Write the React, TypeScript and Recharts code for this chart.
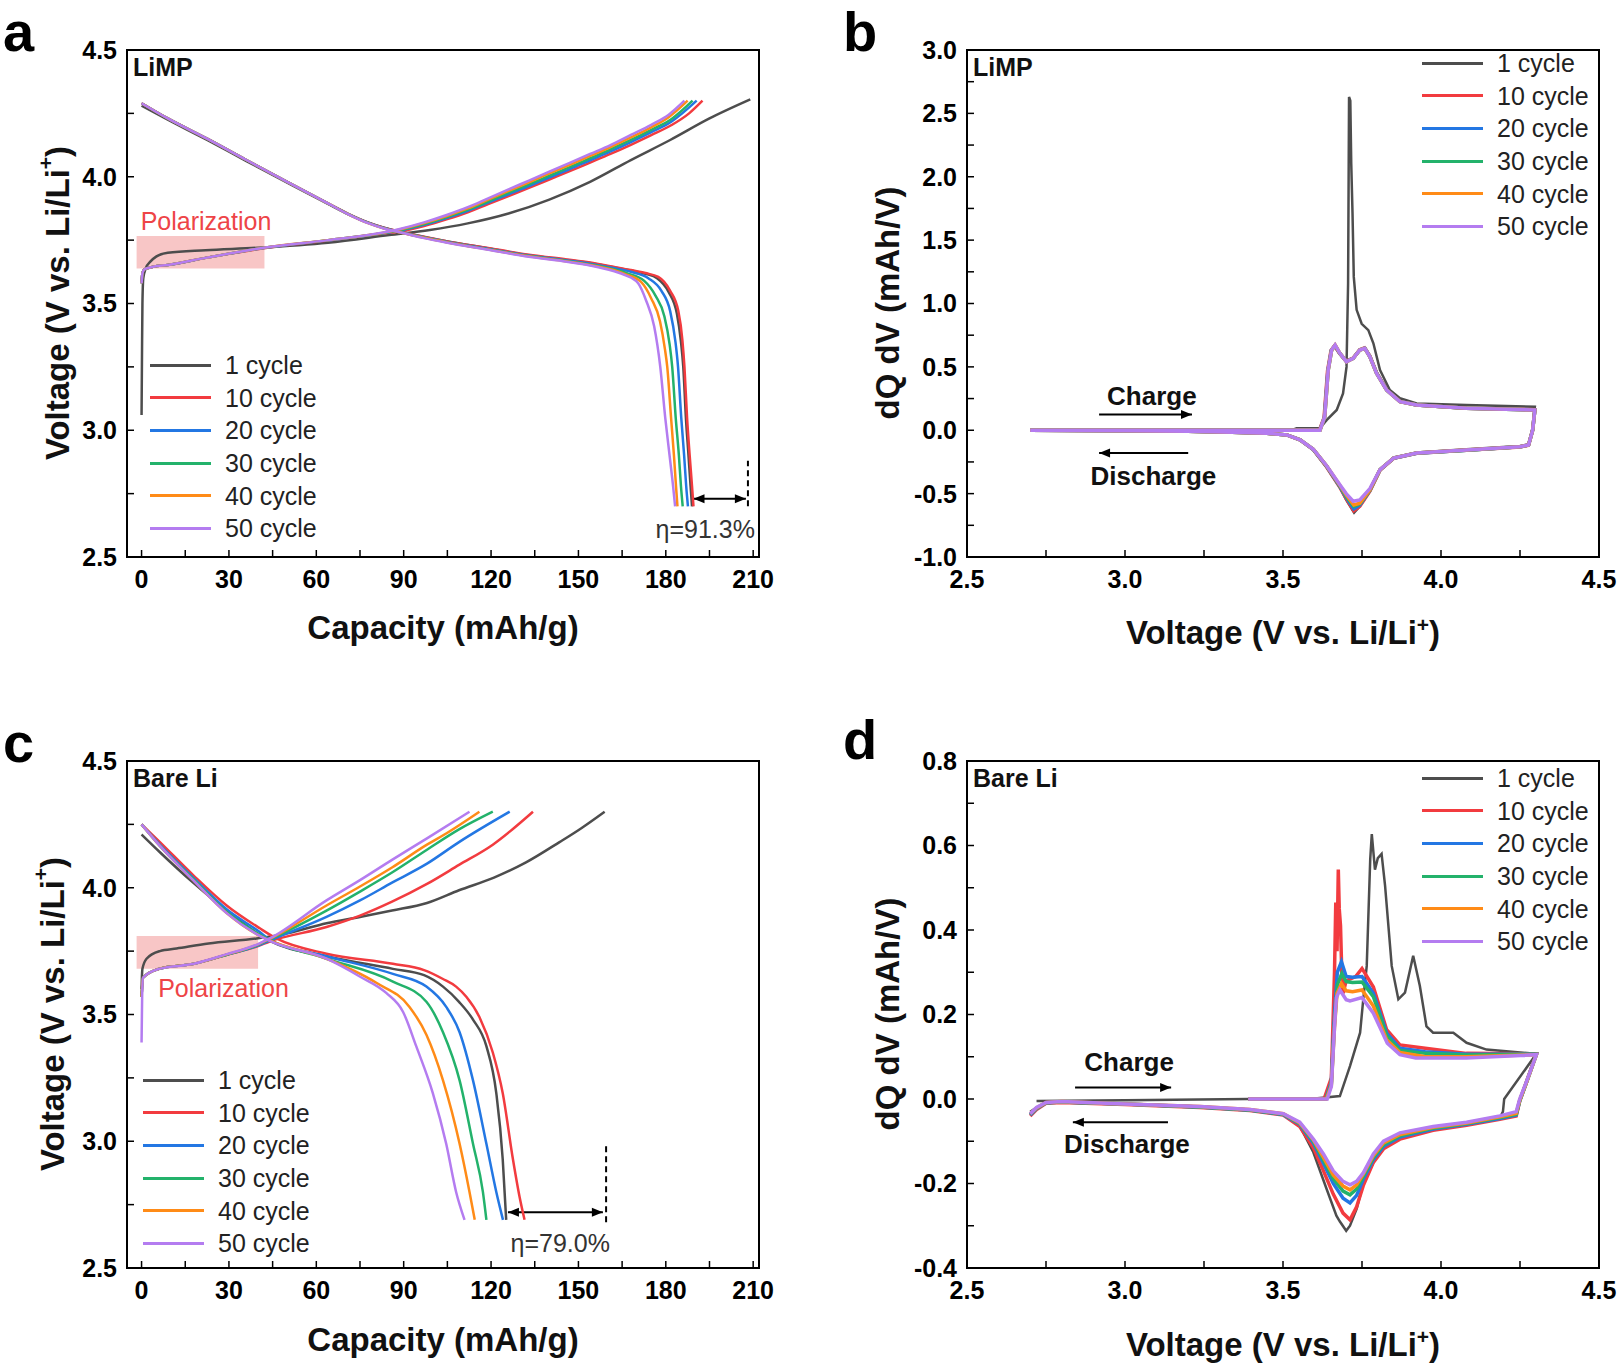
import React from "react";
import {
  LineChart,
  Line,
  XAxis,
  YAxis,
  ReferenceArea,
  ReferenceLine,
  ReferenceDot,
  Legend,
} from "recharts";

type Pt = [number, number];

const FONT = "'Liberation Sans', Arial, Helvetica, sans-serif";

const cycleNames = ["1 cycle", "10 cycle", "20 cycle", "30 cycle", "40 cycle", "50 cycle"];
const cycleColors = ["#4d4d4d", "#f23b3f", "#2377e3", "#23b26b", "#ff8b17", "#b47cf0"];

// tick positions (labels only on the major ones)
const capacityTicks = [0, 15, 30, 45, 60, 75, 90, 105, 120, 135, 150, 165, 180, 195, 210];
const voltageTicks = [2.5, 2.75, 3, 3.25, 3.5, 3.75, 4, 4.25, 4.5];
const limpDqTicks = [-1, -0.75, -0.5, -0.25, 0, 0.25, 0.5, 0.75, 1, 1.25, 1.5, 1.75, 2, 2.25, 2.5, 2.75, 3];
const bareDqTicks = [-0.4, -0.3, -0.2, -0.1, 0, 0.1, 0.2, 0.3, 0.4, 0.5, 0.6, 0.7, 0.8];

// ---------- (a) LiMP voltage profiles: [capacity mAh/g, V] ----------
const limpCharge1: Pt[] = [[0,3.06],[0.15,3.3],[0.3,3.5],[0.6,3.6],[1.5,3.64],[3,3.665],[5,3.685],[9,3.7],[22,3.71],[40,3.72],[64,3.74],[85,3.77],[99,3.79],[112,3.816],[126,3.855],[140,3.91],[154,3.98],[168,4.066],[181.5,4.145],[195,4.23],[209,4.305]];
const limpCharge10: Pt[] = [[0,3.58],[0.3,3.62],[1,3.635],[4,3.645],[9,3.652],[22,3.68],[42,3.718],[64,3.748],[83,3.776],[89,3.785],[97,3.806],[105,3.833],[112,3.86],[119,3.892],[126,3.924],[133,3.956],[140,3.989],[147,4.022],[154,4.056],[161,4.09],[168,4.126],[175,4.164],[182,4.204],[188,4.25],[192.6,4.3]];
const limpCharge20: Pt[] = [[0,3.58],[0.3,3.62],[1,3.635],[4,3.645],[9,3.652],[22,3.68],[42,3.719],[64,3.749],[83,3.777],[89,3.788],[97,3.81],[105,3.838],[112,3.866],[119,3.898],[126,3.931],[133,3.963],[140,3.997],[147,4.03],[154,4.065],[161,4.1],[168,4.137],[175,4.176],[182,4.218],[190.6,4.3]];
const limpCharge30: Pt[] = [[0,3.58],[0.3,3.62],[1,3.635],[4,3.645],[9,3.652],[22,3.68],[42,3.72],[64,3.75],[83,3.778],[89,3.79],[97,3.813],[105,3.842],[112,3.87],[119,3.903],[126,3.937],[133,3.97],[140,4.004],[147,4.038],[154,4.073],[161,4.108],[168,4.145],[175,4.185],[182,4.228],[189.2,4.3]];
const limpCharge40: Pt[] = [[0,3.58],[0.3,3.62],[1,3.635],[4,3.645],[9,3.652],[22,3.68],[42,3.72],[64,3.75],[83,3.779],[89,3.793],[97,3.817],[105,3.846],[112,3.875],[119,3.91],[126,3.944],[133,3.978],[140,4.013],[147,4.047],[154,4.082],[161,4.117],[168,4.155],[175,4.195],[181,4.235],[187.5,4.3]];
const limpCharge50: Pt[] = [[0,3.58],[0.3,3.62],[1,3.635],[4,3.645],[9,3.652],[22,3.68],[42,3.72],[64,3.75],[83,3.78],[89,3.795],[97,3.82],[105,3.85],[112,3.88],[119,3.915],[126,3.95],[133,3.985],[140,4.02],[147,4.055],[154,4.09],[161,4.125],[168,4.165],[175,4.205],[181,4.245],[186.4,4.3]];

const limpDis1: Pt[] = [[0,4.28],[9,4.225],[22.5,4.145],[36,4.062],[50,3.977],[64,3.893],[71,3.852],[78,3.818],[83.5,3.798],[89,3.783],[97,3.762],[105,3.745],[120,3.716],[133,3.69],[146,3.672],[154,3.66],[162,3.643],[168,3.63],[173,3.617],[177,3.6],[181,3.545],[183.8,3.46],[185.2,3.35],[186,3.25],[186.9,3.05],[187.8,2.9],[188.5,2.78],[189,2.7]];
const limpDis10: Pt[] = [[0,4.29],[9,4.23],[22.5,4.15],[36,4.066],[50,3.98],[64,3.895],[71,3.854],[78,3.819],[83.5,3.798],[89,3.783],[97,3.763],[105,3.745],[120,3.717],[133,3.692],[146,3.674],[154,3.662],[162,3.645],[168,3.632],[173,3.62],[177.4,3.605],[181.5,3.55],[184.3,3.47],[185.7,3.355],[186.4,3.25],[187.3,3.05],[188.2,2.9],[189,2.78],[189.5,2.7]];
const limpDis20: Pt[] = [[0,4.29],[9,4.23],[22.5,4.15],[36,4.066],[50,3.98],[64,3.895],[71,3.853],[78,3.818],[83.5,3.797],[89,3.782],[97,3.761],[105,3.743],[120,3.714],[133,3.689],[146,3.67],[154,3.657],[162,3.64],[168,3.625],[174,3.6],[178.5,3.55],[181.5,3.47],[183.3,3.35],[184.2,3.25],[185.3,3.05],[186.3,2.9],[187,2.78],[187.6,2.7]];
const limpDis30: Pt[] = [[0,4.29],[9,4.23],[22.5,4.15],[36,4.066],[50,3.98],[64,3.895],[71,3.853],[78,3.817],[83.5,3.796],[89,3.781],[97,3.76],[105,3.742],[120,3.712],[133,3.687],[146,3.668],[154,3.654],[162,3.635],[167,3.618],[172.5,3.59],[176.5,3.53],[179.5,3.45],[181.3,3.34],[182.2,3.25],[183.4,3.05],[184.5,2.9],[185.2,2.78],[185.8,2.7]];
const limpDis40: Pt[] = [[0,4.29],[9,4.23],[22.5,4.15],[36,4.066],[50,3.98],[64,3.895],[71,3.852],[78,3.816],[83.5,3.795],[89,3.78],[97,3.759],[105,3.741],[120,3.711],[133,3.686],[146,3.666],[154,3.652],[162,3.632],[166.5,3.614],[171.5,3.585],[175,3.52],[178,3.43],[179.7,3.32],[180.5,3.25],[181.8,3.05],[182.8,2.9],[183.5,2.78],[184,2.7]];
const limpDis50: Pt[] = [[0,4.29],[9,4.23],[22.5,4.15],[36,4.066],[50,3.98],[64,3.895],[71,3.852],[78,3.816],[83.5,3.795],[89,3.78],[97,3.758],[105,3.74],[120,3.71],[133,3.684],[146,3.665],[154,3.65],[162,3.628],[166,3.612],[170.5,3.58],[173.3,3.51],[176,3.41],[178.1,3.25],[179.8,3.05],[181.3,2.9],[182.5,2.78],[183.2,2.7]];

// ---------- (c) Bare Li voltage profiles ----------
const bareCharge1: Pt[] = [[0,3.6],[0.1,3.64],[0.3,3.68],[1.7,3.72],[6.3,3.75],[12,3.76],[23,3.78],[39.5,3.8],[50,3.82],[63.5,3.86],[75,3.885],[86,3.91],[98,3.94],[109,3.99],[121,4.04],[132,4.1],[143.5,4.18],[151,4.235],[159,4.3]];
const bareCharge10: Pt[] = [[0,3.57],[0.5,3.645],[6,3.68],[18,3.7],[29,3.735],[40,3.77],[44,3.788],[63.5,3.845],[75,3.89],[86,3.945],[98,4.015],[109,4.09],[120.6,4.17],[134.4,4.3]];
const bareCharge20: Pt[] = [[0,3.57],[0.5,3.645],[6,3.68],[18,3.7],[29,3.735],[40,3.772],[44,3.792],[63.5,3.885],[75,3.95],[86,4.02],[98,4.095],[109,4.18],[126.4,4.3]];
const bareCharge30: Pt[] = [[0,3.57],[0.5,3.645],[6,3.68],[18,3.7],[29,3.735],[40,3.775],[44,3.796],[63.5,3.91],[75,3.985],[86,4.06],[98,4.15],[109,4.23],[120.6,4.3]];
const bareCharge40: Pt[] = [[0,3.57],[0.5,3.645],[6,3.68],[18,3.7],[29,3.736],[40,3.777],[44,3.798],[63.5,3.93],[75,4.005],[86,4.08],[98,4.17],[104,4.21],[116,4.3]];
const bareCharge50: Pt[] = [[0,3.39],[0.2,3.57],[0.5,3.645],[6,3.68],[18,3.7],[29,3.737],[40,3.778],[44,3.8],[63.5,3.95],[75,4.03],[86,4.11],[98,4.195],[112.6,4.3]];

const bareDis1: Pt[] = [[0,4.21],[6.3,4.14],[17.7,4.02],[29.2,3.91],[44,3.79],[63.5,3.73],[86.3,3.68],[97,3.655],[103.5,3.61],[109,3.55],[113.8,3.48],[118.4,3.375],[121.8,3.19],[124,2.93],[125.2,2.69]];
const bareDis10: Pt[] = [[0,4.25],[6.3,4.18],[17.7,4.05],[29.2,3.93],[40.6,3.84],[46.3,3.8],[63.5,3.74],[86.3,3.7],[97,3.675],[103.5,3.64],[108,3.61],[111.5,3.57],[116,3.49],[120.6,3.35],[124,3.19],[127.5,2.93],[129.8,2.78],[131.5,2.69]];
const bareDis20: Pt[] = [[0,4.25],[6.3,4.17],[17.7,4.04],[29.2,3.915],[40.6,3.825],[44,3.795],[63.5,3.73],[86.3,3.66],[97.8,3.61],[104.6,3.53],[109.2,3.43],[113.8,3.24],[118.4,2.99],[121.8,2.8],[124.1,2.69]];
const bareDis30: Pt[] = [[0,4.25],[6.3,4.165],[17.7,4.035],[29.2,3.905],[40.6,3.815],[44,3.793],[63.5,3.72],[86.3,3.63],[97.8,3.55],[103.5,3.43],[109.2,3.24],[113.8,2.99],[117.2,2.8],[118.4,2.69]];
const bareDis40: Pt[] = [[0,4.25],[6.3,4.165],[17.7,4.03],[29.2,3.9],[40.6,3.81],[44,3.792],[63.5,3.72],[80.6,3.625],[92,3.53],[97.8,3.42],[103.5,3.24],[109.2,2.99],[112.6,2.8],[114.4,2.69]];
const bareDis50: Pt[] = [[0,4.25],[6.3,4.165],[17.7,4.03],[29.2,3.9],[40.6,3.81],[44,3.79],[63.5,3.72],[74.9,3.65],[84,3.585],[89.8,3.51],[94.3,3.375],[100,3.19],[104.6,2.99],[108,2.8],[110.9,2.69]];

// ---------- (b) LiMP dQ/dV loops: [V, dQ/dV], charge then discharge ----------
const limpDq1: Pt[] = [[2.7,0],[3.0,0],[3.3,0.001],[3.53,0.002],[3.543,0.015],[3.617,0.017],[3.638,0.08],[3.67,0.16],[3.69,0.29],[3.701,0.5],[3.706,1.16],[3.709,2.63],[3.713,2.6],[3.716,2.1],[3.72,1.71],[3.724,1.21],[3.733,0.95],[3.749,0.84],[3.77,0.79],[3.786,0.686],[3.807,0.475],[3.838,0.317],[3.87,0.252],[3.923,0.212],[4.08,0.199],[4.297,0.186],[4.29,0.02],[4.277,-0.11],[4.25,-0.125],[4.08,-0.15],[3.923,-0.175],[3.85,-0.215],[3.807,-0.31],[3.775,-0.48],[3.743,-0.6],[3.725,-0.65],[3.7,-0.55],[3.68,-0.45],[3.638,-0.29],[3.596,-0.155],[3.554,-0.077],[3.512,-0.037],[3.449,-0.024],[3.34,-0.015],[3.2,-0.008],[3.0,-0.003],[2.7,0]];
const limpDq10: Pt[] = [[2.7,0],[3.2,0],[3.55,0],[3.615,0.0],[3.63,0.1],[3.641,0.47],[3.652,0.63],[3.663,0.665],[3.678,0.61],[3.7,0.545],[3.722,0.57],[3.743,0.635],[3.758,0.65],[3.775,0.585],[3.796,0.455],[3.828,0.32],[3.87,0.228],[3.923,0.2],[4.08,0.174],[4.297,0.162],[4.29,0.0],[4.277,-0.118],[4.25,-0.132],[4.08,-0.158],[3.923,-0.182],[3.85,-0.222],[3.807,-0.315],[3.775,-0.48],[3.743,-0.6],[3.724,-0.635],[3.7,-0.54],[3.68,-0.45],[3.638,-0.29],[3.596,-0.153],[3.554,-0.076],[3.512,-0.037],[3.449,-0.024],[3.34,-0.015],[3.2,-0.008],[3.0,-0.003],[2.7,0]];
const limpDq20: Pt[] = [[2.7,0],[3.2,0],[3.55,0],[3.616,0.0],[3.631,0.1],[3.642,0.47],[3.653,0.632],[3.664,0.668],[3.679,0.608],[3.7,0.543],[3.722,0.568],[3.743,0.634],[3.759,0.648],[3.775,0.582],[3.796,0.452],[3.828,0.318],[3.87,0.227],[3.923,0.2],[4.08,0.173],[4.297,0.161],[4.29,0.0],[4.277,-0.117],[4.25,-0.131],[4.08,-0.157],[3.923,-0.181],[3.85,-0.221],[3.807,-0.312],[3.775,-0.475],[3.743,-0.59],[3.724,-0.62],[3.7,-0.53],[3.68,-0.445],[3.638,-0.285],[3.596,-0.152],[3.554,-0.076],[3.512,-0.037],[3.449,-0.024],[3.34,-0.015],[3.2,-0.008],[3.0,-0.003],[2.7,0]];
const limpDq30: Pt[] = [[2.7,0],[3.2,0],[3.55,0],[3.617,0.0],[3.632,0.105],[3.643,0.472],[3.654,0.633],[3.665,0.67],[3.68,0.607],[3.701,0.542],[3.722,0.567],[3.743,0.633],[3.759,0.646],[3.775,0.58],[3.796,0.45],[3.828,0.317],[3.87,0.226],[3.923,0.199],[4.08,0.173],[4.297,0.16],[4.29,0.0],[4.277,-0.117],[4.25,-0.131],[4.08,-0.157],[3.923,-0.18],[3.85,-0.22],[3.807,-0.311],[3.775,-0.472],[3.743,-0.58],[3.724,-0.6],[3.7,-0.52],[3.68,-0.44],[3.638,-0.283],[3.596,-0.151],[3.554,-0.075],[3.512,-0.037],[3.449,-0.024],[3.34,-0.015],[3.2,-0.008],[3.0,-0.003],[2.7,0]];
const limpDq40: Pt[] = [[2.7,0],[3.2,0],[3.55,0],[3.617,0.0],[3.632,0.106],[3.643,0.474],[3.654,0.633],[3.665,0.672],[3.68,0.607],[3.701,0.541],[3.722,0.567],[3.743,0.633],[3.759,0.646],[3.775,0.58],[3.796,0.449],[3.828,0.317],[3.87,0.226],[3.923,0.199],[4.08,0.173],[4.297,0.16],[4.29,0.0],[4.277,-0.116],[4.25,-0.13],[4.08,-0.156],[3.923,-0.18],[3.85,-0.22],[3.807,-0.31],[3.775,-0.47],[3.743,-0.575],[3.724,-0.59],[3.7,-0.51],[3.68,-0.435],[3.638,-0.281],[3.596,-0.15],[3.554,-0.075],[3.512,-0.037],[3.449,-0.024],[3.34,-0.015],[3.2,-0.008],[3.0,-0.003],[2.7,0]];
const limpDq50: Pt[] = [[2.7,0],[3.2,0],[3.55,0],[3.617,0.0],[3.632,0.107],[3.643,0.475],[3.654,0.633],[3.665,0.673],[3.68,0.607],[3.701,0.541],[3.722,0.567],[3.743,0.633],[3.759,0.646],[3.775,0.58],[3.796,0.449],[3.828,0.317],[3.87,0.226],[3.923,0.199],[4.08,0.173],[4.297,0.16],[4.29,0.0],[4.277,-0.116],[4.25,-0.13],[4.08,-0.156],[3.923,-0.18],[3.85,-0.22],[3.807,-0.31],[3.775,-0.46],[3.743,-0.55],[3.722,-0.56],[3.7,-0.5],[3.68,-0.43],[3.638,-0.28],[3.596,-0.15],[3.554,-0.075],[3.512,-0.037],[3.449,-0.024],[3.34,-0.015],[3.2,-0.008],[3.0,-0.003],[2.7,0]];

// ---------- (d) Bare Li dQ/dV loops ----------
const bareDq1: Pt[] = [[2.72,-0.005],[3.0,-0.003],[3.39,0],[3.585,0],[3.68,0.007],[3.712,0.078],[3.744,0.157],[3.754,0.236],[3.765,0.315],[3.776,0.567],[3.781,0.627],[3.791,0.543],[3.8,0.57],[3.812,0.58],[3.823,0.505],[3.844,0.315],[3.865,0.236],[3.886,0.252],[3.912,0.339],[3.933,0.268],[3.954,0.172],[3.975,0.157],[4.039,0.157],[4.081,0.133],[4.144,0.117],[4.302,0.107],[4.2,0.0],[4.196,-0.03],[4.186,-0.045],[4.081,-0.06],[3.975,-0.072],[3.87,-0.09],[3.818,-0.11],[3.786,-0.15],[3.754,-0.2],[3.733,-0.26],[3.712,-0.3],[3.7,-0.312],[3.68,-0.29],[3.669,-0.276],[3.638,-0.213],[3.596,-0.126],[3.553,-0.064],[3.501,-0.036],[3.395,-0.026],[3.237,-0.018],[3.0,-0.012],[2.8,-0.006],[2.75,-0.008],[2.72,-0.02],[2.7,-0.03]];
const bareDq10: Pt[] = [[3.39,0],[3.63,0],[3.653,0.05],[3.663,0.3],[3.667,0.465],[3.671,0.35],[3.675,0.543],[3.678,0.45],[3.682,0.41],[3.686,0.3],[3.69,0.25],[3.7,0.28],[3.73,0.29],[3.75,0.309],[3.786,0.265],[3.828,0.164],[3.87,0.128],[3.95,0.12],[4.08,0.108],[4.302,0.107],[4.27,0.04],[4.249,-0.005],[4.238,-0.04],[4.186,-0.048],[4.081,-0.062],[3.975,-0.074],[3.87,-0.095],[3.818,-0.118],[3.786,-0.15],[3.754,-0.205],[3.733,-0.255],[3.712,-0.286],[3.69,-0.27],[3.659,-0.225],[3.628,-0.17],[3.596,-0.115],[3.553,-0.065],[3.501,-0.038],[3.395,-0.027],[3.237,-0.02],[3.0,-0.013],[2.8,-0.008],[2.75,-0.01],[2.72,-0.025],[2.7,-0.04]];
const bareDq20: Pt[] = [[3.39,0],[3.635,0],[3.653,0.04],[3.663,0.2],[3.672,0.3],[3.685,0.325],[3.7,0.29],[3.72,0.288],[3.75,0.29],[3.786,0.25],[3.828,0.156],[3.87,0.12],[3.95,0.112],[4.08,0.106],[4.302,0.106],[4.27,0.038],[4.249,-0.005],[4.238,-0.038],[4.186,-0.046],[4.081,-0.06],[3.975,-0.071],[3.87,-0.09],[3.818,-0.112],[3.786,-0.143],[3.754,-0.19],[3.733,-0.228],[3.712,-0.246],[3.69,-0.235],[3.659,-0.2],[3.628,-0.152],[3.596,-0.104],[3.553,-0.06],[3.501,-0.037],[3.395,-0.026],[3.237,-0.019],[3.0,-0.012],[2.8,-0.007],[2.75,-0.009],[2.72,-0.023],[2.7,-0.038]];
const bareDq30: Pt[] = [[3.39,0],[3.636,0],[3.653,0.035],[3.663,0.18],[3.672,0.27],[3.686,0.297],[3.7,0.278],[3.72,0.276],[3.75,0.277],[3.786,0.242],[3.828,0.15],[3.87,0.115],[3.95,0.108],[4.08,0.104],[4.302,0.106],[4.27,0.038],[4.249,-0.004],[4.238,-0.036],[4.186,-0.044],[4.081,-0.058],[3.975,-0.069],[3.87,-0.087],[3.818,-0.108],[3.786,-0.138],[3.754,-0.183],[3.733,-0.213],[3.712,-0.227],[3.69,-0.218],[3.659,-0.188],[3.628,-0.145],[3.596,-0.1],[3.553,-0.058],[3.501,-0.036],[3.395,-0.026],[3.237,-0.019],[3.0,-0.012],[2.8,-0.007],[2.75,-0.009],[2.72,-0.022],[2.7,-0.036]];
const bareDq40: Pt[] = [[3.39,0],[3.637,0],[3.653,0.032],[3.663,0.17],[3.671,0.25],[3.685,0.273],[3.7,0.256],[3.72,0.254],[3.75,0.258],[3.786,0.22],[3.828,0.14],[3.87,0.11],[3.95,0.1],[4.08,0.1],[4.302,0.105],[4.27,0.038],[4.249,-0.003],[4.238,-0.034],[4.186,-0.042],[4.081,-0.057],[3.975,-0.067],[3.87,-0.084],[3.818,-0.104],[3.786,-0.134],[3.754,-0.178],[3.733,-0.203],[3.712,-0.215],[3.69,-0.206],[3.659,-0.18],[3.628,-0.138],[3.596,-0.097],[3.553,-0.057],[3.501,-0.035],[3.395,-0.025],[3.237,-0.018],[3.0,-0.012],[2.8,-0.006],[2.75,-0.008],[2.72,-0.021],[2.7,-0.035]];
const bareDq50: Pt[] = [[3.39,0],[3.64,0],[3.653,0.03],[3.663,0.17],[3.669,0.24],[3.68,0.258],[3.7,0.235],[3.712,0.232],[3.75,0.24],[3.786,0.203],[3.83,0.132],[3.87,0.105],[3.92,0.097],[4.08,0.097],[4.302,0.105],[4.27,0.04],[4.249,0.0],[4.238,-0.03],[4.186,-0.04],[4.081,-0.055],[3.975,-0.065],[3.87,-0.08],[3.818,-0.1],[3.786,-0.13],[3.754,-0.175],[3.733,-0.195],[3.712,-0.203],[3.69,-0.195],[3.659,-0.17],[3.628,-0.13],[3.596,-0.095],[3.553,-0.055],[3.501,-0.035],[3.395,-0.025],[3.237,-0.018],[3.0,-0.012],[2.8,-0.006],[2.75,-0.008],[2.72,-0.02],[2.7,-0.035]];

// annotations
const limpEta = { from: 189.5, to: 207.5, v: 2.73, dashX: 208.2, dashLo: 2.7, dashHi: 2.88, text: "\u03b7=91.3%", textX: 210.6, textV: 2.61 };
const bareEta = { from: 125.8, to: 158.4, v: 2.72, dashX: 159.5, dashLo: 2.68, dashHi: 2.99, text: "\u03b7=79.0%", textX: 160.8, textV: 2.6 };

type Series = { pts: Pt[]; color: string; w: number; curve: "linear" | "monotone" };

const W = 781;
const H = 655;

const toRows = (pts: Pt[]) => pts.map(([x, y]) => ({ x, y }));

const majorFmt = (step: number) => (v: number) =>
  Math.abs(v / step - Math.round(v / step)) < 1e-6 ? (Math.abs(v) < 1e-9 ? "0" : String(v)) : "";

const fixedFmt = (step: number) => (v: number) =>
  Math.abs(v / step - Math.round(v / step)) < 1e-6 ? (Math.abs(v) < 1e-9 ? 0 : v).toFixed(1) : "";

const arrowShape = (both: boolean) => (p: any) => {
  const { x1, y1, x2, y2 } = p;
  const d = x2 > x1 ? 1 : -1;
  const L = 11;
  const w = 4.5;
  return (
    <g>
      <line x1={x1} y1={y1} x2={x2} y2={y2} stroke="#000" strokeWidth={2} />
      <polygon points={`${x2},${y2} ${x2 - d * L},${y2 - w} ${x2 - d * L},${y2 + w}`} fill="#000" />
      {both && (
        <polygon points={`${x1},${y1} ${x1 + d * L},${y1 - w} ${x1 + d * L},${y1 + w}`} fill="#000" />
      )}
    </g>
  );
};

const textShape = (
  str: string,
  opts: { anchor?: "start" | "middle" | "end"; size?: number; bold?: boolean; color?: string; dx?: number; dy?: number }
) => (p: any) => (
  <text
    x={p.cx + (opts.dx || 0)}
    y={p.cy + (opts.dy || 0)}
    textAnchor={opts.anchor || "middle"}
    dominantBaseline="central"
    fontFamily={FONT}
    fontSize={opts.size || 25}
    fontWeight={opts.bold ? 700 : 400}
    fill={opts.color || "#222"}
  >
    {str}
  </text>
);

const voltTitle = (
  <>
    Voltage (V vs. Li/Li
    <tspan dy={-12} fontSize={21}>+</tspan>
    <tspan dy={12}>)</tspan>
  </>
);

const renderLegend = () => (
  <div style={{ fontFamily: FONT, fontSize: 25, color: "#222" }}>
    {cycleNames.map((n, i) => (
      <div key={n} style={{ display: "flex", alignItems: "center", height: 32.6 }}>
        <div style={{ width: 61, height: 3, background: cycleColors[i], marginRight: 14 }} />
        <span style={{ lineHeight: "30px", whiteSpace: "nowrap" }}>{n}</span>
      </div>
    ))}
  </div>
);

type PanelProps = {
  left: number;
  top: number;
  letter: string;
  letterTop: number;
  tag: string;
  xDomain: [number, number];
  xTicks: number[];
  xFmt: (v: number) => string;
  yDomain: [number, number];
  yTicks: number[];
  yFmt: (v: number) => string;
  xTitle: React.ReactNode;
  xTitleY: number;
  yTitle: React.ReactNode;
  yTitleX: number;
  series: Series[];
  legend: { left: number; top: number };
  children?: React.ReactNode;
};

const tickStyle = { fill: "#000", fontSize: 25, fontWeight: 700, fontFamily: FONT };

function Panel(p: PanelProps) {
  return (
    <div style={{ position: "absolute", left: p.left, top: p.top, width: W, height: H }}>
      <LineChart width={W} height={H} margin={{ top: 50, right: 22, bottom: 38, left: 27 }}>
        <XAxis
          type="number"
          dataKey="x"
          domain={p.xDomain}
          allowDataOverflow
          ticks={p.xTicks}
          interval={0}
          tickFormatter={p.xFmt}
          tick={tickStyle}
          tickSize={-7}
          tickMargin={20}
          height={60}
          axisLine={{ stroke: "#000", strokeWidth: 2 }}
          tickLine={{ stroke: "#000", strokeWidth: 1.5 }}
          label={() => (
            <text x={443} y={p.xTitleY} textAnchor="middle" fontFamily={FONT} fontWeight={700} fontSize={33} fill="#111">
              {p.xTitle}
            </text>
          )}
        />
        <YAxis
          type="number"
          dataKey="y"
          domain={p.yDomain}
          allowDataOverflow
          ticks={p.yTicks}
          interval={0}
          tickFormatter={p.yFmt}
          tick={tickStyle}
          tickSize={-7}
          tickMargin={17}
          width={100}
          axisLine={{ stroke: "#000", strokeWidth: 2 }}
          tickLine={{ stroke: "#000", strokeWidth: 1.5 }}
          label={() => (
            <text
              transform={`translate(${p.yTitleX},303) rotate(-90)`}
              textAnchor="middle"
              dominantBaseline="central"
              fontFamily={FONT}
              fontWeight={700}
              fontSize={33}
              fill="#111"
            >
              {p.yTitle}
            </text>
          )}
        />
        <ReferenceArea
          x1={p.xDomain[0]}
          x2={p.xDomain[1]}
          y1={p.yDomain[0]}
          y2={p.yDomain[1]}
          fill="none"
          stroke="#000"
          strokeWidth={2}
        />
        {p.children}
        {p.series.map((s, i) => (
          <Line
            key={i}
            data={toRows(s.pts)}
            dataKey="y"
            type={s.curve}
            stroke={s.color}
            strokeWidth={s.w}
            dot={false}
            activeDot={false}
            legendType="none"
            isAnimationActive={false}
          />
        ))}
        <ReferenceDot
          x={p.xDomain[0]}
          y={p.yDomain[1]}
          r={0}
          ifOverflow="visible"
          shape={textShape(p.tag, { anchor: "start", bold: true, size: 25, color: "#111", dx: 6, dy: 17 })}
        />
        <Legend
          content={renderLegend}
          layout="vertical"
          align="center"
          verticalAlign="middle"
          wrapperStyle={{ left: p.legend.left, top: p.legend.top, width: 220 }}
        />
      </LineChart>
      <div
        style={{
          position: "absolute",
          left: 3,
          top: p.letterTop,
          fontFamily: FONT,
          fontWeight: 700,
          fontSize: 56,
          lineHeight: "56px",
          color: "#000",
        }}
      >
        {p.letter}
      </div>
    </div>
  );
}

const capacitySeries = (pairs: Pt[][][]): Series[] =>
  pairs.flatMap((pair, i) => pair.map((pts) => ({ pts, color: cycleColors[i], w: 2.5, curve: "monotone" as const })));

const loopSeries = (loops: Pt[][]): Series[] =>
  loops.map((pts, i) => ({ pts, color: cycleColors[i], w: i === 0 ? 2.5 : 3.5, curve: "linear" as const }));

const polarBox = (x1: number, x2: number, y1: number, y2: number) => (
  <ReferenceArea x1={x1} x2={x2} y1={y1} y2={y2} fill="#f08080" fillOpacity={0.45} stroke="none" />
);

const etaMarks = (e: typeof limpEta) => [
  <ReferenceLine
    key="eta-arrow"
    segment={[{ x: e.from, y: e.v }, { x: e.to, y: e.v }]}
    shape={arrowShape(true)}
  />,
  <ReferenceLine
    key="eta-dash"
    segment={[{ x: e.dashX, y: e.dashLo }, { x: e.dashX, y: e.dashHi }]}
    stroke="#000"
    strokeWidth={2}
    strokeDasharray="6 4"
  />,
  <ReferenceDot
    key="eta-text"
    x={e.textX}
    y={e.textV}
    r={0}
    ifOverflow="visible"
    shape={textShape(e.text, { anchor: "end", size: 25, color: "#333" })}
  />,
];

export default function App() {
  return (
    <div style={{ position: "absolute", left: 0, top: 0, width: 1621, height: 1366, background: "#fff" }}>
      <Panel
        left={0}
        top={0}
        letter="a"
        letterTop={4}
        tag="LiMP"
        xDomain={[-5, 212]}
        xTicks={capacityTicks}
        xFmt={majorFmt(30)}
        yDomain={[2.5, 4.5]}
        yTicks={voltageTicks}
        yFmt={fixedFmt(0.5)}
        xTitle="Capacity (mAh/g)"
        xTitleY={639}
        yTitle={voltTitle}
        yTitleX={57}
        series={capacitySeries([
          [limpCharge1, limpDis1],
          [limpCharge10, limpDis10],
          [limpCharge20, limpDis20],
          [limpCharge30, limpDis30],
          [limpCharge40, limpDis40],
          [limpCharge50, limpDis50],
        ])}
        legend={{ left: 150, top: 349 }}
      >
        {polarBox(-1.7, 42.2, 3.638, 3.766)}
        <ReferenceDot
          x={-0.3}
          y={3.825}
          r={0}
          shape={textShape("Polarization", { anchor: "start", size: 25, color: "#ee4447" })}
        />
        {etaMarks(limpEta)}
      </Panel>

      <Panel
        left={840}
        top={0}
        letter="b"
        letterTop={4}
        tag="LiMP"
        xDomain={[2.5, 4.5]}
        xTicks={voltageTicks}
        xFmt={fixedFmt(0.5)}
        yDomain={[-1, 3]}
        yTicks={limpDqTicks}
        yFmt={fixedFmt(0.5)}
        xTitle={voltTitle}
        xTitleY={644}
        yTitle="dQ dV (mAh/V)"
        yTitleX={47}
        series={loopSeries([limpDq1, limpDq10, limpDq20, limpDq30, limpDq40, limpDq50])}
        legend={{ left: 582, top: 47 }}
      >
        <ReferenceLine segment={[{ x: 2.918, y: 0.124 }, { x: 3.212, y: 0.124 }]} shape={arrowShape(false)} />
        <ReferenceLine segment={[{ x: 3.2, y: -0.18 }, { x: 2.918, y: -0.18 }]} shape={arrowShape(false)} />
        <ReferenceDot x={3.085} y={0.27} r={0} shape={textShape("Charge", { size: 26, bold: true, color: "#111" })} />
        <ReferenceDot x={3.09} y={-0.36} r={0} shape={textShape("Discharge", { size: 26, bold: true, color: "#111" })} />
      </Panel>

      <Panel
        left={0}
        top={711}
        letter="c"
        letterTop={4}
        tag="Bare Li"
        xDomain={[-5, 212]}
        xTicks={capacityTicks}
        xFmt={majorFmt(30)}
        yDomain={[2.5, 4.5]}
        yTicks={voltageTicks}
        yFmt={fixedFmt(0.5)}
        xTitle="Capacity (mAh/g)"
        xTitleY={640}
        yTitle={voltTitle}
        yTitleX={52}
        series={capacitySeries([
          [bareCharge1, bareDis1],
          [bareCharge10, bareDis10],
          [bareCharge20, bareDis20],
          [bareCharge30, bareDis30],
          [bareCharge40, bareDis40],
          [bareCharge50, bareDis50],
        ])}
        legend={{ left: 143, top: 353 }}
      >
        {polarBox(-1.7, 40, 3.68, 3.81)}
        <ReferenceDot
          x={5.7}
          y={3.605}
          r={0}
          shape={textShape("Polarization", { anchor: "start", size: 25, color: "#ee4447" })}
        />
        {etaMarks(bareEta)}
      </Panel>

      <Panel
        left={840}
        top={711}
        letter="d"
        letterTop={1}
        tag="Bare Li"
        xDomain={[2.5, 4.5]}
        xTicks={voltageTicks}
        xFmt={fixedFmt(0.5)}
        yDomain={[-0.4, 0.8]}
        yTicks={bareDqTicks}
        yFmt={fixedFmt(0.2)}
        xTitle={voltTitle}
        xTitleY={645}
        yTitle="dQ dV (mAh/V)"
        yTitleX={47}
        series={loopSeries([bareDq1, bareDq10, bareDq20, bareDq30, bareDq40, bareDq50])}
        legend={{ left: 582, top: 51 }}
      >
        <ReferenceLine segment={[{ x: 2.842, y: 0.027 }, { x: 3.146, y: 0.027 }]} shape={arrowShape(false)} />
        <ReferenceLine segment={[{ x: 3.136, y: -0.055 }, { x: 2.835, y: -0.055 }]} shape={arrowShape(false)} />
        <ReferenceDot x={3.013} y={0.087} r={0} shape={textShape("Charge", { size: 26, bold: true, color: "#111" })} />
        <ReferenceDot x={3.006} y={-0.107} r={0} shape={textShape("Discharge", { size: 26, bold: true, color: "#111" })} />
      </Panel>
    </div>
  );
}
